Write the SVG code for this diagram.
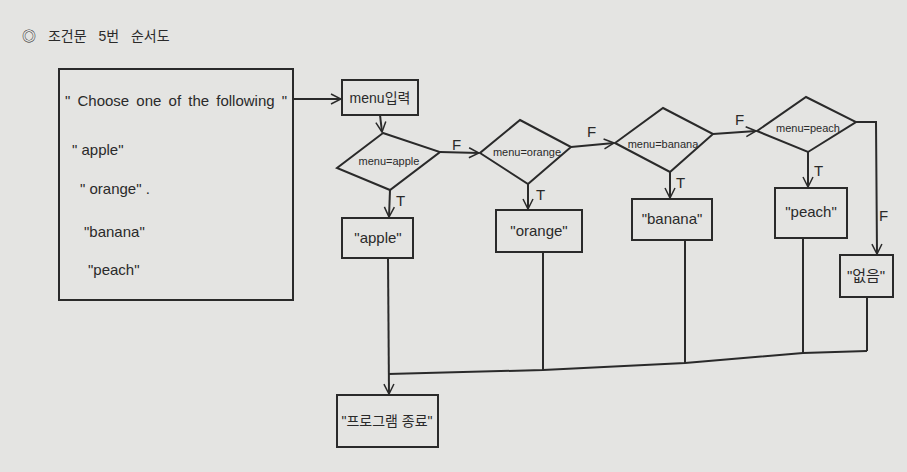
<svg xmlns="http://www.w3.org/2000/svg" width="907" height="472" viewBox="0 0 907 472">
<defs>
<marker id="arr" viewBox="0 0 12 12" refX="11" refY="6" markerWidth="12" markerHeight="12" markerUnits="userSpaceOnUse" orient="auto">
<polyline points="1,1 11,6 1,11" fill="none" stroke="#2a2a2a" stroke-width="1.5"/>
</marker>
</defs>
<style>
.bg{fill:#e4e4e2}
.s{fill:none;stroke:#2a2a2a;stroke-width:2}
.t{font-family:"Liberation Sans","Noto Sans CJK KR",sans-serif;fill:#2a2a2a;font-size:14px}
.c{text-anchor:middle}
.sm{font-size:11px}
.lb{font-size:15px}
.big{font-size:15px}
</style>
<rect class="bg" x="0" y="0" width="907" height="472"/>
<text class="t" x="22" y="41" font-size="16" word-spacing="8">◎ 조건문 5번 순서도</text>

<g id="input">
<rect class="s" x="59" y="69" width="234" height="231"/>
<text class="t big" x="65" y="106" word-spacing="3">" Choose one of the following "</text>
<text class="t big" x="72" y="155">"  apple"</text>
<text class="t big" x="80" y="194">" orange" .</text>
<text class="t big" x="84" y="237">"banana"</text>
<text class="t big" x="88" y="275">"peach"</text>
</g>

<g id="menuInput">
<rect class="s" x="342" y="80" width="76" height="35"/>
<text class="t c" x="380" y="103">menu입력</text>
</g>

<g id="d1">
<polygon class="s" points="383,133 440,152 390,190 337,168"/>
<text class="t c sm" x="389" y="165">menu=apple</text>
</g>
<g id="d2">
<polygon class="s" points="520,120 571,147 528,184 480,153"/>
<text class="t c sm" x="527" y="156">menu=orange</text>
</g>
<g id="d3">
<polygon class="s" points="663,108 713,134 670,172 615,143"/>
<text class="t c sm" x="663" y="148">menu=banana</text>
</g>
<g id="d4">
<polygon class="s" points="806,97 856,122 808,152 757,131"/>
<text class="t c sm" x="808" y="132">menu=peach</text>
</g>

<g id="apple">
<rect class="s" x="342" y="218" width="71" height="40"/>
<text class="t c big" x="378" y="243">"apple"</text>
</g>
<g id="orange">
<rect class="s" x="496" y="210" width="86" height="42"/>
<text class="t c big" x="539" y="236">"orange"</text>
</g>
<g id="banana">
<rect class="s" x="632" y="199" width="80" height="41"/>
<text class="t c big" x="672" y="224">"banana"</text>
</g>
<g id="peach">
<rect class="s" x="775" y="188" width="72" height="50"/>
<text class="t c big" x="811" y="217">"peach"</text>
</g>
<g id="none">
<rect class="s" x="840" y="255" width="53" height="42"/>
<text class="t c big" x="866" y="281">"없음"</text>
</g>
<g id="end">
<rect class="s" x="337" y="395" width="101" height="52"/>
<text class="t c" x="387" y="426">"프로그램 종료"</text>
</g>

<g id="connectors">
<line class="s" x1="293" y1="99" x2="341" y2="99" marker-end="url(#arr)"/>
<line class="s" x1="380" y1="115" x2="382" y2="132" marker-end="url(#arr)"/>
<line class="s" x1="440" y1="152" x2="479" y2="153" marker-end="url(#arr)"/>
<line class="s" x1="571" y1="147" x2="614" y2="143" marker-end="url(#arr)"/>
<line class="s" x1="713" y1="134" x2="756" y2="131" marker-end="url(#arr)"/>
<polyline class="s" points="856,122 876,122 877,254" marker-end="url(#arr)"/>
<line class="s" x1="390" y1="190" x2="389" y2="217" marker-end="url(#arr)"/>
<line class="s" x1="528" y1="184" x2="528" y2="209" marker-end="url(#arr)"/>
<line class="s" x1="670" y1="172" x2="670" y2="198" marker-end="url(#arr)"/>
<line class="s" x1="808" y1="152" x2="808" y2="187" marker-end="url(#arr)"/>
<line class="s" x1="388" y1="258" x2="389" y2="394" marker-end="url(#arr)"/>
<polyline class="s" points="388,374 543,370 685,363 803,353 867,351"/>
<line class="s" x1="543" y1="252" x2="543" y2="370"/>
<line class="s" x1="685" y1="240" x2="685" y2="363"/>
<line class="s" x1="803" y1="238" x2="803" y2="353"/>
<line class="s" x1="867" y1="297" x2="867" y2="351"/>
<text class="t lb" x="452" y="150">F</text>
<text class="t lb" x="587" y="137">F</text>
<text class="t lb" x="735" y="125">F</text>
<text class="t lb" x="879" y="221">F</text>
<text class="t lb" x="396" y="206">T</text>
<text class="t lb" x="536" y="200">T</text>
<text class="t lb" x="676" y="188">T</text>
<text class="t lb" x="814" y="176">T</text>
</g>
</svg>
